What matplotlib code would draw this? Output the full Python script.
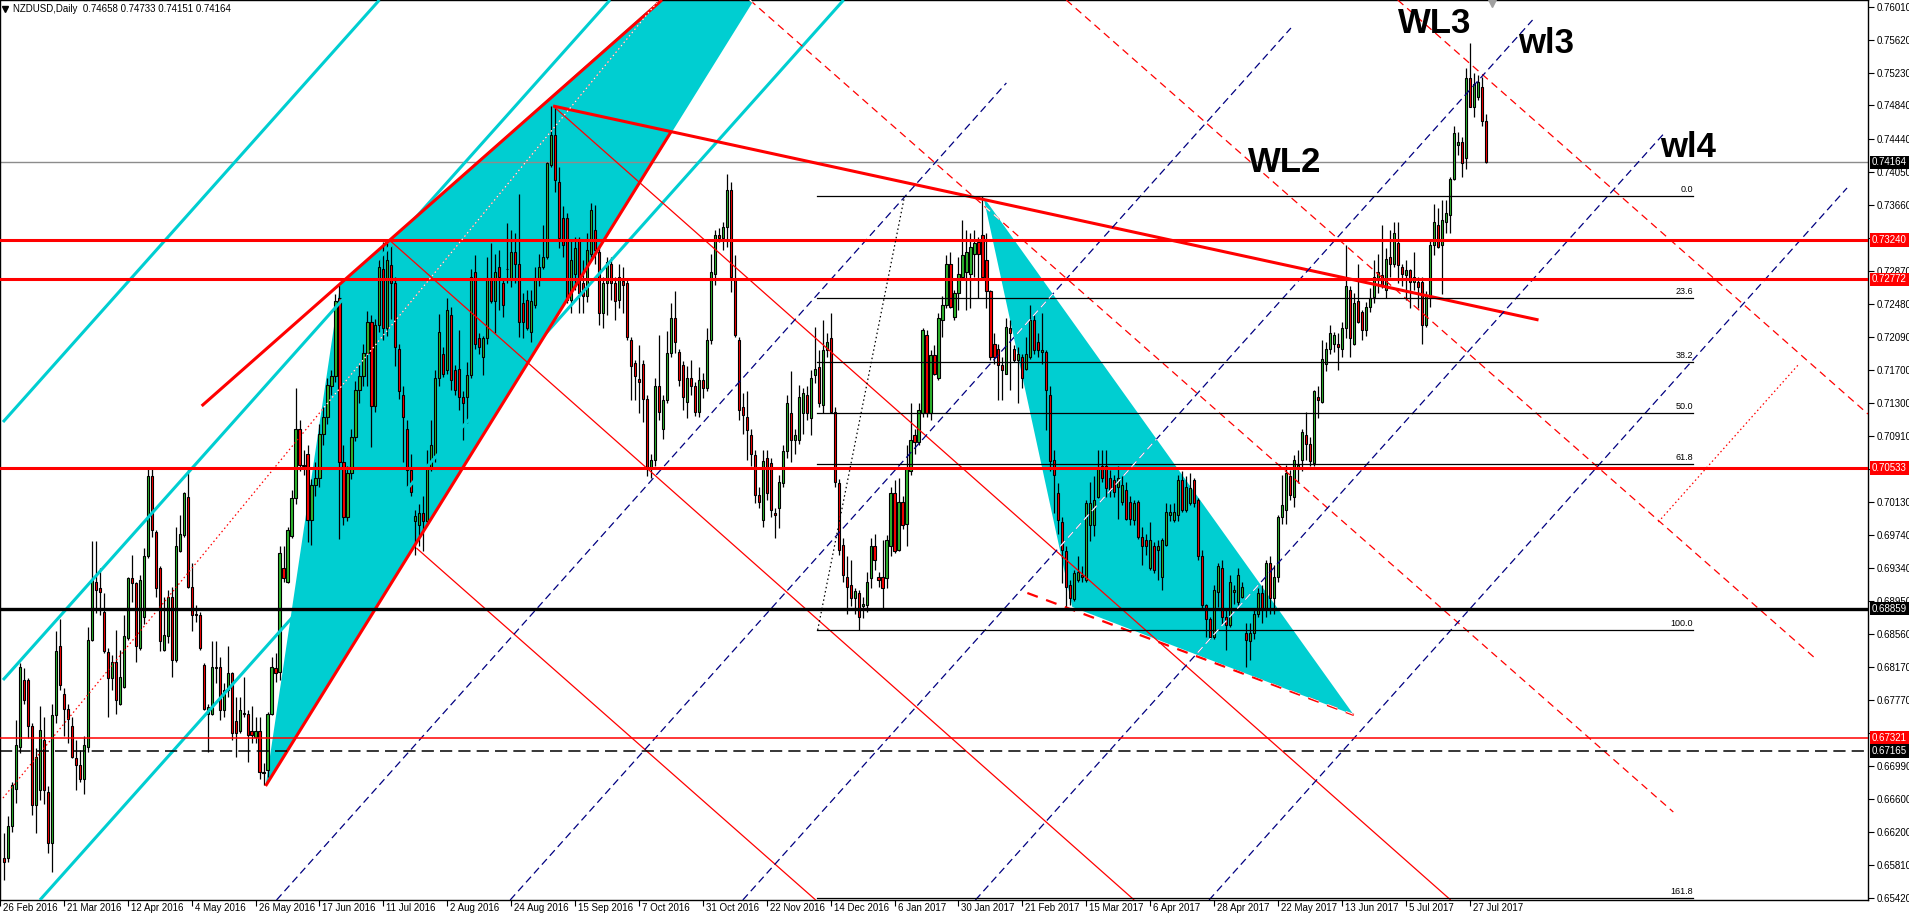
import numpy as np
import matplotlib
matplotlib.use("Agg")
import matplotlib.pyplot as plt
from matplotlib.patches import Polygon
import matplotlib.transforms as mtransforms

plt.rcParams['font.family'] = ['Liberation Sans', 'DejaVu Sans']

# ---------------- DATA (NZDUSD daily, one value per trading bar) ----------------
opens = [
 .6589,.6589,.6627,.6672,.6722,.6801,.6801,.6746,.6653,.6670, .6730,.6668,.6607,.6760,.6841,.6785,.6767,.6746,.6708,.6700,
 .6684,.6722,.6849,.6918,.6910,.6882,.6834,.6803,.6823,.6773, .6793,.6851,.6922,.6916,.6839,.6876,.6948,.7043,.6977,.6934,
 .6837,.6853,.6900,.6825,.6955,.6973,.7019,.6912,.6880,.6878, .6819,.6761,.6761,.6817,.6817,.6765,.6789,.6809,.6752,.6740,
 .6762,.6761,.6740,.6733,.6740,.6692,.6694,.6761,.6815,.6811, .6934,.6918,.6972,.7017,.7100,.7057,.7070,.6991,.7033,.7041,
 .7093,.7114,.7150,.7162,.7255,.7060,.6995,.7047,.7090,.7146, .7162,.7190,.7227,.7127,.7223,.7290,.7219,.7294,.7273,.7195,
 .7140,.7100,.7051,.6990,.6985,.7000,.6990,.7054,.7068,.7160, .7189,.7169,.7235,.7169,.7171,.7138,.7138,.7164,.7286,.7207,
 .7185,.7207,.7279,.7251,.7292,.7273,.7290,.7276,.7310,.7296, .7249,.7253,.7215,.7247,.7279,.7292,.7304,.7413,.7449,.7393,
 .7350,.7350,.7253,.7284,.7324,.7273,.7257,.7308,.7336,.7310, .7237,.7273,.7296,.7273,.7253,.7275,.7273,.7205,.7178,.7159,
 .7177,.7135,.7053,.7063,.7150,.7100,.7134,.7190,.7231,.7191, .7175,.7132,.7160,.7150,.7120,.7158,.7148,.7205,.7284,.7330,
 .7326,.7340,.7383,.7278,.7205,.7126,.7114,.7092,.7069,.7021, .6991,.7065,.7059,.6999,.7005,.7035,.7073,.7118,.7086,.7086,
 .7118,.7140,.7112,.7164,.7173,.7128,.7193,.7207,.7120,.7035, .6962,.6924,.6914,.6899,.6905,.6889,.6890,.6922,.6960,.6924,
 .6924,.6922,.6960,.7023,.6956,.7013,.6987,.7050,.7092,.7084, .7118,.7211,.7118,.7187,.7160,.7229,.7247,.7296,.7233,.7261,
 .7280,.7286,.7284,.7308,.7322,.7330,.7300,.7263,.7201,.7195, .7175,.7165,.7219,.7195,.7181,.7185,.7171,.7185,.7229,.7203,
 .7191,.7191,.7140,.7063,.7023,.6989,.6954,.6914,.6897,.6920, .6926,.6920,.6985,.6985,.7019,.7055,.7055,.7041,.7039,.7031,
 .7013,.7027,.7013,.6991,.7013,.6971,.6967,.6934,.6960,.6956, .6924,.6962,.6997,.6991,.6997,.7039,.7003,.7011,.7039,.7015,
 .6948,.6890,.6874,.6852,.6906,.6934,.6876,.6866,.6906,.6894, .6900,.6857,.6847,.6857,.6880,.6904,.6886,.6940,.6898,.6924,
 .6995,.7003,.7043,.7019,.7053,.7062,.7092,.7082,.7059,.7138, .7132,.7177,.7195,.7201,.7201,.7195,.7219,.7265,.7201,.7251,
 .7239,.7217,.7244,.7256,.7278,.7282,.7265,.7304,.7296,.7320, .7292,.7282,.7288,.7274,.7274,.7274,.7223,.7257,.7318,.7342,
 .7318,.7346,.7354,.7397,.7437,.7441,.7421,.7516,.7482,.7494, .7506,.74658]
highs = [
 .6619,.6639,.6680,.6754,.6821,.6815,.6803,.6750,.6720,.6770, .6757,.6675,.6772,.6859,.6873,.6791,.6773,.6757,.6730,.6718,
 .6734,.6864,.6966,.6966,.6934,.6904,.6839,.6831,.6861,.6837, .6878,.6924,.6950,.6918,.6926,.6958,.7053,.7053,.6979,.6936,
 .6900,.6908,.6912,.6983,.6997,.7025,.7053,.6940,.6890,.6882, .6821,.6773,.6847,.6847,.6829,.6797,.6841,.6811,.6781,.6781,
 .6805,.6765,.6770,.6757,.6757,.6702,.6763,.6829,.6833,.6960, .6960,.6983,.7027,.7148,.7110,.7075,.7080,.7040,.7060,.7105,
 .7125,.7160,.7170,.7260,.7270,.7080,.7055,.7100,.7157,.7175, .7200,.7240,.7235,.7230,.7304,.7322,.7320,.7318,.7280,.7200,
 .7150,.7110,.7070,.7003,.7010,.7020,.7075,.7110,.7170,.7236, .7197,.7255,.7245,.7175,.7217,.7145,.7179,.7290,.7306,.7213,
 .7210,.7304,.7320,.7308,.7312,.7279,.7344,.7336,.7332,.7379, .7261,.7265,.7265,.7292,.7308,.7342,.7417,.7483,.7483,.7411,
 .7364,.7356,.7324,.7328,.7328,.7300,.7332,.7368,.7366,.7316, .7280,.7304,.7304,.7280,.7296,.7292,.7277,.7209,.7182,.7199,
 .7181,.7140,.7070,.7160,.7211,.7140,.7216,.7249,.7264,.7195, .7180,.7174,.7181,.7155,.7173,.7166,.7219,.7308,.7336,.7338,
 .7346,.7403,.7393,.7306,.7209,.7142,.7144,.7100,.7074,.7030, .7074,.7074,.7065,.7005,.7045,.7080,.7140,.7168,.7100,.7152,
 .7148,.7150,.7170,.7221,.7193,.7229,.7213,.7237,.7125,.7040, .6970,.6948,.6944,.6910,.6908,.6900,.6930,.6970,.6975,.6930,
 .6968,.6974,.7031,.7039,.7041,.7020,.7080,.7130,.7100,.7130, .7219,.7217,.7193,.7199,.7237,.7257,.7306,.7310,.7265,.7304,
 .7348,.7336,.7332,.7336,.7328,.7376,.7332,.7265,.7213,.7201, .7185,.7231,.7229,.7199,.7197,.7189,.7209,.7247,.7235,.7213,
 .7237,.7193,.7150,.7074,.7035,.6995,.6960,.6920,.6932,.6948, .6936,.7015,.7037,.7043,.7074,.7074,.7074,.7051,.7045,.7055,
 .7043,.7037,.7020,.7015,.7015,.6983,.6975,.6989,.6965,.6967, .6970,.7011,.7010,.7011,.7045,.7049,.7043,.7047,.7041,.7017,
 .6956,.6892,.6876,.6914,.6940,.6944,.6884,.6926,.6914,.6934, .6918,.6869,.6869,.6886,.6910,.6914,.6944,.6948,.6938,.6997,
 .7045,.7057,.7051,.7069,.7074,.7100,.7120,.7090,.7146,.7150, .7205,.7203,.7223,.7215,.7213,.7227,.7318,.7269,.7261,.7296,
 .7241,.7250,.7267,.7300,.7308,.7342,.7314,.7336,.7346,.7346, .7296,.7300,.7290,.7310,.7280,.7280,.7263,.7324,.7367,.7362,
 .7371,.7371,.7399,.7459,.7453,.7447,.7528,.7558,.7522,.7520, .7518,.74733]
lows = [
 .6563,.6585,.6620,.6655,.6714,.6773,.6732,.6641,.6619,.6658, .6654,.6595,.6573,.6750,.6789,.6734,.6726,.6708,.6670,.6680,
 .6666,.6716,.6847,.6881,.6878,.6833,.6757,.6789,.6761,.6771, .6791,.6849,.6894,.6823,.6837,.6868,.6946,.6971,.6900,.6835,
 .6835,.6845,.6805,.6823,.6953,.6971,.6910,.6859,.6870,.6837, .6765,.6716,.6759,.6797,.6753,.6757,.6781,.6730,.6710,.6738,
 .6757,.6704,.6726,.6726,.6684,.6676,.6686,.6759,.6799,.6801, .6918,.6916,.6970,.7010,.7050,.7045,.6965,.6962,.7020,.7030,
 .7080,.7105,.7140,.7155,.6969,.6985,.6990,.7040,.7085,.7130, .7150,.7150,.7078,.7120,.7215,.7205,.7210,.7230,.7174,.7135,
 .7060,.7030,.7020,.6950,.6960,.6955,.6985,.7050,.7060,.7150, .7161,.7165,.7146,.7140,.7122,.7086,.7106,.7160,.7195,.7189,
 .7164,.7200,.7249,.7213,.7241,.7233,.7273,.7268,.7273,.7209, .7207,.7217,.7203,.7243,.7269,.7290,.7302,.7411,.7381,.7314,
 .7304,.7249,.7237,.7265,.7237,.7237,.7250,.7304,.7296,.7223, .7219,.7235,.7253,.7229,.7243,.7237,.7205,.7134,.7134,.7118,
 .7108,.7043,.7041,.7055,.7110,.7088,.7130,.7185,.7190,.7150, .7122,.7112,.7140,.7115,.7114,.7136,.7145,.7200,.7270,.7322,
 .7312,.7316,.7262,.7209,.7110,.7094,.7062,.7055,.7011,.7005, .6983,.7015,.6995,.6970,.6982,.7030,.7065,.7060,.7070,.7082,
 .7094,.7110,.7092,.7154,.7126,.7118,.7185,.7118,.7030,.6950, .6918,.6880,.6889,.6880,.6861,.6875,.6882,.6910,.6932,.6912,
 .6884,.6910,.6948,.6952,.6954,.6980,.6960,.7045,.7070,.7080, .7114,.7114,.7110,.7163,.7158,.7209,.7243,.7243,.7229,.7241,
 .7278,.7241,.7243,.7280,.7255,.7278,.7243,.7181,.7177,.7134, .7134,.7165,.7146,.7179,.7130,.7148,.7169,.7183,.7189,.7185,
 .7177,.7098,.7050,.6999,.6975,.6916,.6888,.6890,.6895,.6918, .6918,.6918,.6966,.6972,.7017,.7037,.7019,.7019,.7019,.6993,
 .7009,.6991,.6985,.6985,.6969,.6938,.6950,.6932,.6928,.6920, .6908,.6960,.6990,.6989,.6990,.7001,.7001,.7009,.7007,.6944,
 .6884,.6852,.6850,.6850,.6888,.6868,.6837,.6864,.6892,.6890, .6898,.6817,.6825,.6850,.6876,.6869,.6876,.6880,.6880,.6918,
 .6987,.6987,.7015,.7007,.7035,.7050,.7062,.7055,.7055,.7112, .7130,.7168,.7189,.7191,.7169,.7185,.7207,.7185,.7199,.7225,
 .7205,.7210,.7238,.7249,.7261,.7267,.7255,.7280,.7292,.7273, .7269,.7253,.7243,.7265,.7243,.7201,.7221,.7245,.7306,.7314,
 .7260,.7332,.7332,.7395,.7425,.7399,.7409,.7482,.7470,.7490, .7460,.74151]
closes = [
 .6585,.6627,.6676,.6724,.6817,.6777,.6746,.6653,.6710,.6742, .6670,.6607,.6760,.6835,.6795,.6767,.6755,.6710,.6700,.6684,
 .6724,.6849,.6920,.6908,.6906,.6835,.6803,.6823,.6777,.6805, .6853,.6922,.6916,.6841,.6920,.6948,.7043,.6979,.6910,.6847,
 .6855,.6900,.6825,.6960,.6975,.7023,.6912,.6878,.6878,.6839, .6767,.6769,.6817,.6815,.6765,.6789,.6809,.6738,.6738,.6765,
 .6761,.6736,.6736,.6740,.6692,.6690,.6761,.6817,.6809,.6952, .6922,.6979,.7017,.7100,.7057,.7055,.6991,.7033,.7041,.7093,
 .7114,.7152,.7162,.7251,.7060,.6995,.7047,.7090,.7146,.7162, .7190,.7227,.7127,.7223,.7292,.7219,.7300,.7273,.7197,.7144,
 .7114,.7051,.7024,.6996,.7000,.6990,.7054,.7080,.7160,.7215, .7165,.7241,.7158,.7146,.7138,.7130,.7164,.7280,.7201,.7197,
 .7207,.7279,.7251,.7286,.7280,.7247,.7289,.7310,.7296,.7227, .7227,.7219,.7251,.7279,.7292,.7304,.7415,.7449,.7395,.7326,
 .7318,.7253,.7300,.7314,.7261,.7257,.7312,.7360,.7312,.7237, .7273,.7298,.7273,.7251,.7280,.7271,.7209,.7174,.7162,.7155,
 .7135,.7053,.7063,.7150,.7120,.7134,.7190,.7231,.7203,.7158, .7138,.7160,.7150,.7120,.7158,.7148,.7205,.7286,.7330,.7326,
 .7340,.7383,.7280,.7211,.7122,.7116,.7098,.7070,.7021,.7013, .7061,.7023,.7003,.6997,.7037,.7073,.7130,.7086,.7092,.7138,
 .7142,.7118,.7160,.7171,.7130,.7193,.7203,.7120,.7037,.6956, .6926,.6912,.6899,.6907,.6876,.6891,.6918,.6960,.6944,.6920,
 .6910,.6968,.7023,.6954,.7013,.6985,.7053,.7086,.7084,.7122, .7217,.7118,.7187,.7165,.7231,.7247,.7296,.7245,.7261,.7284,
 .7306,.7310,.7316,.7320,.7308,.7280,.7263,.7185,.7185,.7175, .7169,.7221,.7213,.7181,.7189,.7160,.7189,.7229,.7193,.7193,
 .7193,.7146,.7061,.7045,.6991,.6956,.6912,.6899,.6928,.6930, .6924,.7011,.7011,.7015,.7053,.7041,.7029,.7027,.7025,.7041,
 .7033,.6993,.6993,.7011,.6971,.6960,.6960,.6967,.6932,.6960, .6967,.7001,.7001,.7001,.7039,.7003,.7031,.7029,.7011,.6948,
 .6890,.6874,.6852,.6908,.6936,.6876,.6866,.6918,.6908,.6926, .6912,.6849,.6857,.6880,.6904,.6886,.6940,.6898,.6924,.6995,
 .7009,.7047,.7021,.7063,.7057,.7096,.7082,.7061,.7144,.7134, .7183,.7195,.7213,.7211,.7197,.7219,.7269,.7207,.7249,.7227,
 .7217,.7245,.7255,.7280,.7286,.7269,.7302,.7296,.7332,.7294, .7284,.7288,.7274,.7280,.7268,.7223,.7259,.7318,.7346,.7316,
 .7348,.7356,.7397,.7451,.7441,.7415,.7516,.7482,.7510,.7512, .7466,.74164]

date_labels = ['26 Feb 2016', '21 Mar 2016', '12 Apr 2016', '4 May 2016', '26 May 2016', '17 Jun 2016',
               '11 Jul 2016', '2 Aug 2016', '24 Aug 2016', '15 Sep 2016', '7 Oct 2016', '31 Oct 2016',
               '22 Nov 2016', '14 Dec 2016', '6 Jan 2017', '30 Jan 2017', '21 Feb 2017', '15 Mar 2017',
               '6 Apr 2017', '28 Apr 2017', '22 May 2017', '13 Jun 2017', '5 Jul 2017', '27 Jul 2017']
bars_per_label = 16

price_ticks = [0.76010, 0.75620, 0.75230, 0.74840, 0.74440, 0.74050, 0.73660, 0.73270, 0.72870, 0.72480,
               0.72090, 0.71700, 0.71300, 0.70910, 0.70520, 0.70130, 0.69740, 0.69340, 0.68950, 0.68560,
               0.68170, 0.67770, 0.67380, 0.66990, 0.66600, 0.66200, 0.65810, 0.65420]
# grid prices whose labels sit fully under a coloured level box on the price scale
covered_ticks = [0.73270, 0.70520, 0.67380]

# horizontal levels
red_thick_levels = [0.73240, 0.72772, 0.70533]
red_thin_levels = [0.67321]
black_thick_levels = [0.68859]
black_dash_levels = [0.67165]
bid_price = 0.74164

# Fibonacci retracement (bar index range, prices)
fib_high, fib_low = 0.73763, 0.68605
fib_levels = [0.0, 23.6, 38.2, 50.0, 61.8, 100.0, 161.8]
fib_span = (204.5, 424.0)
fib_trend = [(204.75, 0.68605), (226.5, 0.73763)]

# trend objects: (bar index, price) anchor pairs
cyan_lines = [[(0.75, 0.71077), (95.0, 0.76093)],
              [(0.75, 0.68011), (152.75, 0.76093)],
              [(10.0, 0.65396), (211.25, 0.76093)]]
red_thick_lines = [[(50.5, 0.71268), (165.75, 0.76093)],
                   [(66.5, 0.66751), (168.0, 0.74524)],
                   [(138.5, 0.74833), (385.25, 0.72290)]]
red_thin_lines = [[(97.5, 0.73240), (284.0, 0.65396)],
                  [(138.5, 0.74833), (363.25, 0.65396)],
                  [(104.25, 0.69580), (204.25, 0.65396)]]
red_dash_lines = [[(187.75, 0.76093), (419.0, 0.66442)],
                  [(267.0, 0.76093), (455.0, 0.68249)],
                  [(350.0, 0.76093), (467.75, 0.71172)]]
red_dash_thick_line = [(257.25, 0.69045), (339.0, 0.67595)]
red_dot_lines = [[(0.75, 0.66608), (165.0, 0.76093)],
                 [(415.25, 0.69889), (450.25, 0.71755)]]
blue_dash_lines = [[(69.25, 0.65396), (252.0, 0.75107)],
                   [(127.75, 0.65396), (323.25, 0.75760)],
                   [(186.0, 0.65396), (383.75, 0.75855)],
                   [(244.25, 0.65396), (417.0, 0.74524)],
                   [(302.75, 0.65396), (462.5, 0.73859)]]
triangles = [[(66.5, 0.66751), (85.25, 0.72729), (217.75, 0.78304)],
             [(246.25, 0.73752), (268.5, 0.68879), (339.0, 0.67595)]]

header = "NZDUSD,Daily  0.74658 0.74733 0.74151 0.74164"
wave_labels = [("WL3", 1398, 33), ("wl3", 1518, 53), ("wl4", 1660, 157), ("WL2", 1248, 172)]

# ---------------- FIGURE ----------------
W, H = 1909, 923
AX_W, AX_H = 1868, 900
fig = plt.figure(figsize=(W / 100, H / 100), dpi=100)
fig.patch.set_facecolor('white')
ax = fig.add_axes([0, (H - AX_H) / H, AX_W / W, AX_H / H])
ax.set_xlim((0 + 3) / 4, (AX_W + 3) / 4)
ax.set_ylim(0.65396, 0.76093)
ax.set_facecolor('white')

GREEN = '#2eb82e'
RED = '#ff0000'
CYAN = '#00ced1'
NAVY = '#000080'

# filled triangles (background)
polys = []
for tri in triangles:
    p = Polygon(tri, closed=True, facecolor=CYAN, edgecolor='none', zorder=1)
    ax.add_patch(p)
    polys.append(p)

# candles
o = np.array(opens); h = np.array(highs); l = np.array(lows); c = np.array(closes)
h = np.maximum(h, np.maximum(o, c)); l = np.minimum(l, np.minimum(o, c))
x = np.arange(1, len(c) + 1)
up = c >= o
ax.vlines(x, l, h, color='black', linewidth=0.9, zorder=3)
body = np.maximum(np.abs(c - o), 0.00004)
ax.bar(x, body, bottom=np.minimum(o, c), width=0.55,
       color=np.where(up, GREEN, RED), edgecolor='black', linewidth=0.8, zorder=4)

def seg(pts, **kw):
    (x1, y1), (x2, y2) = pts
    return ax.plot([x1, x2], [y1, y2], solid_capstyle='butt', **kw)[0]

def styled_with_white(pts, color, lw, ls):
    seg(pts, color=color, linewidth=lw, linestyle=ls, zorder=5)
    for p in polys:
        wl = seg(pts, color='white', linewidth=lw, linestyle=ls, zorder=5.5)
        wl.set_clip_path(p)

for ln in cyan_lines:
    seg(ln, color=CYAN, linewidth=2.2, zorder=5)
for ln in red_thick_lines:
    seg(ln, color=RED, linewidth=2.2, zorder=5)
for ln in red_thin_lines:
    seg(ln, color=RED, linewidth=0.9, zorder=5)
for ln in red_dash_lines:
    styled_with_white(ln, RED, 0.9, (0, (6, 4)))
styled_with_white(red_dash_thick_line, RED, 1.6, (0, (5, 4)))
for ln in red_dot_lines:
    styled_with_white(ln, RED, 0.9, (0, (1.2, 2.2)))
for ln in blue_dash_lines:
    styled_with_white(ln, NAVY, 0.9, (0, (6, 3.5)))

# horizontal levels
for v in red_thick_levels:
    ax.axhline(v, color=RED, linewidth=2.2, zorder=5)
for v in red_thin_levels:
    ax.axhline(v, color=RED, linewidth=1.1, zorder=5)
for v in black_thick_levels:
    ax.axhline(v, color='black', linewidth=2.4, zorder=5)
for v in black_dash_levels:
    ax.axhline(v, color='black', linewidth=1.1, linestyle=(0, (8, 4)), zorder=5)
ax.axhline(bid_price, color='#8c8c8c', linewidth=1.0, zorder=2)

# Fibonacci
rng = fib_high - fib_low
for lev in fib_levels:
    yv = fib_high - lev / 100.0 * rng
    ax.plot(fib_span, [yv, yv], color='black', linewidth=0.9, zorder=5)
    ax.annotate(f"{lev:.1f}", xy=(fib_span[1], yv), xytext=(0, 1.5), textcoords='offset points',
                ha='right', va='bottom', fontsize=6.5, color='black', zorder=6)
styled_with_white(fib_trend, 'black', 0.9, (0, (1.2, 2.2)))

# wave labels
for txt, px, py in wave_labels:
    ax.text(px / AX_W, 1 - py / AX_H, txt, transform=ax.transAxes, fontsize=25,
            fontweight='bold', color='black', ha='left', va='baseline', zorder=7)

# header
ax.text(13 / AX_W, 1 - 9 / AX_H, header, transform=ax.transAxes, fontsize=7,
        ha='left', va='center', color='black', zorder=7)
ax.plot([4.5 / AX_W], [1 - 9 / AX_H], marker='v', color='black', markersize=4,
        transform=ax.transAxes, clip_on=False, zorder=7)
ax.plot([1492 / AX_W], [1 - 2 / AX_H], marker='v', color='#a0a0a0', markersize=7,
        transform=ax.transAxes, clip_on=False, zorder=7)

# spines / axes
for s in ax.spines.values():
    s.set_color('black'); s.set_linewidth(1.0)
ax.yaxis.tick_right()
ax.set_yticks(price_ticks)
ax.set_yticklabels(["" if v in covered_ticks else f"{v:.5f}" for v in price_ticks])
ax.tick_params(axis='y', direction='out', length=4, width=0.8, labelsize=7, pad=2, colors='black')

tick_pos = [k * bars_per_label for k in range(len(date_labels))]
ax.set_xticks(tick_pos)
ax.set_xticklabels([])
ax.tick_params(axis='x', direction='out', length=4, width=0.8)
trans = mtransforms.blended_transform_factory(ax.transData, ax.transAxes) + \
    mtransforms.ScaledTranslation(3 / 100, -3 / 100, fig.dpi_scale_trans)
for pos, lab in zip(tick_pos, date_labels):
    ax.text(pos, 0, lab, transform=trans, fontsize=7, ha='left', va='top', clip_on=False)

# right-axis price boxes
ytrans = mtransforms.blended_transform_factory(ax.transAxes, ax.transData)
boxes = [(bid_price, 'black')] + [(v, RED) for v in red_thick_levels] + \
        [(v, 'black') for v in black_thick_levels] + [(v, RED) for v in red_thin_levels] + \
        [(v, 'black') for v in black_dash_levels]
for v, col in boxes:
    ax.text(1.0 + 4 / AX_W, v, f"{v:.5f}", transform=ytrans, fontsize=7, color='white',
            ha='left', va='center', clip_on=False, zorder=8,
            bbox=dict(boxstyle='square,pad=0.18', facecolor=col, edgecolor='none'))

fig.savefig('out.png', dpi=100, facecolor='white')
